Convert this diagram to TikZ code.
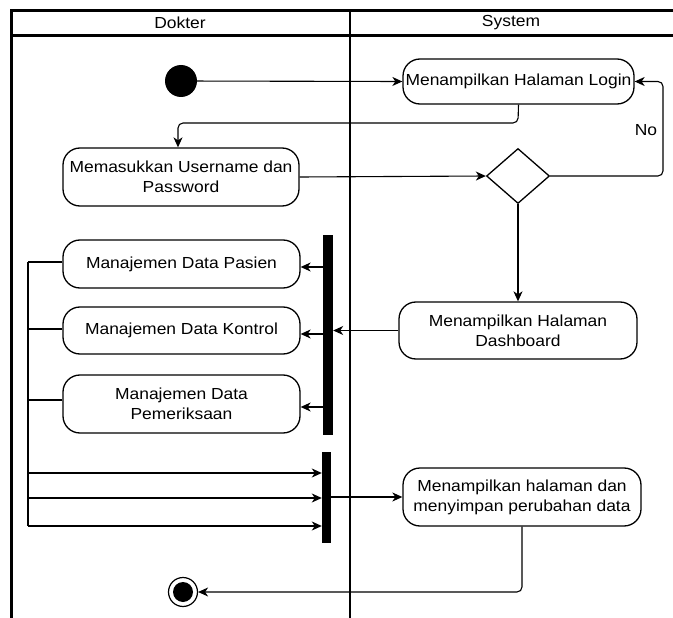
\documentclass[tikz,border=0pt]{standalone}
\usepackage{fontspec}
\setmainfont{Liberation Sans}[FakeStretch=1.09]
\usetikzlibrary{arrows.meta,shapes.geometric}

\tikzset{
  lane/.style={line width=2.2pt, draw=black},
  act/.style={draw=black, line width=1.3pt, rounded corners=17pt, align=center,
              inner sep=0pt, font=\fontsize{16}{20}\selectfont},
  bar/.style={fill=black, draw=none, inner sep=0pt},
  flow/.style={line width=1.1pt, draw=black, rounded corners=5pt,
               -{Stealth[length=10pt,width=9pt,inset=3pt]}},
  link/.style={line width=1.1pt, draw=black},
  lbl/.style={font=\fontsize{16}{20}\selectfont, inner sep=0pt}
}

\begin{document}
\begin{tikzpicture}[x=1pt,y=-1pt]
\useasboundingbox (0,0) rectangle (673,618);

% swimlane frame
\draw[lane] (11.5,618) -- (11.5,10.5) -- (673,10.5);
\draw[lane] (11.5,35.5) -- (673,35.5);
\draw[lane] (350,10.5) -- (350,618);
\node[lbl] (hdoc) at (180,23) {Dokter};
\node[lbl] (hsys) at (511,23) {System};

% activities
\node[circle, fill=black, minimum size=32pt, inner sep=0pt] (start) at (181,81) {};
\node[act, minimum width=231pt, minimum height=45pt] (login) at (518.5,81.5) {Menampilkan Halaman Login};
\node[act, minimum width=236pt, minimum height=58pt] (input) at (181,177) {Memasukkan Username dan\\Password};
\node[diamond, draw=black, line width=1.3pt, minimum width=63pt, minimum height=55pt, inner sep=0pt] (dec) at (518,176) {};
\node[act, minimum width=238pt, minimum height=57pt] (dash) at (518,330.5) {Menampilkan Halaman\\Dashboard};
\node[act, minimum width=237pt, minimum height=48pt] (pasien) at (181.5,264) {Manajemen Data Pasien};
\node[act, minimum width=237pt, minimum height=47pt] (kontrol) at (181.5,330.5) {Manajemen Data Kontrol};
\node[act, minimum width=237pt, minimum height=58pt] (periksa) at (181.5,404) {Manajemen Data\\Pemeriksaan};
\node[bar, minimum width=10pt, minimum height=200pt] (fork) at (328,335) {};
\node[bar, minimum width=9pt, minimum height=91pt] (join) at (326.5,497.5) {};
\node[act, minimum width=238pt, minimum height=58pt] (save) at (522,497) {Menampilkan halaman dan\\menyimpan perubahan data};
\node[circle, draw=black, line width=1.2pt, minimum size=29pt, inner sep=0pt] (stop) at (183,592) {};
\node[circle, fill=black, minimum size=20pt, inner sep=0pt] (stopdot) at (183,592) {};

% routing points
\coordinate (c1) at (518,123);
\coordinate (c2) at (178,123);
\coordinate (r1) at (663,176);
\coordinate (r2) at (663,81.5);
\coordinate (b1) at (28,262);
\coordinate (b2) at (28,329);
\coordinate (b3) at (28,400);
\coordinate (j1) at (28,473);
\coordinate (j2) at (28,498);
\coordinate (j3) at (28,526);
\coordinate (e1) at (522,592);

% control flow
\draw[flow] (start) -- (login.west);
\draw[flow] (login.south) -- (c1) -- (c2) -- (c2 |- input.north);
\draw[flow] (input.east) -- (dec.west);
\draw[flow] (dec.east) -- (r1) -- (r2) -- (login.east);
\node[lbl] (no) at (646,130) {No};
\draw[flow] (dec.south) -- (dash.north);
\draw[flow] (dash.west) -- (fork.east |- dash.west);
\draw[flow] (fork.west |- 0,267) -- (pasien.east |- 0,267);
\draw[flow] (fork.west |- 0,334) -- (kontrol.east |- 0,334);
\draw[flow] (fork.west |- 0,407) -- (periksa.east |- 0,407);

\draw[link] (pasien.west |- b1) -- (b1);
\draw[link] (kontrol.west |- b2) -- (b2);
\draw[link] (periksa.west |- b3) -- (b3);
\draw[link] (b1) -- (j3);
\draw[flow] (j1) -- (join.west |- j1);
\draw[flow] (j2) -- (join.west |- j2);
\draw[flow] (j3) -- (join.west |- j3);

\draw[flow] (join.east |- save.west) -- (save.west);
\draw[flow] (save.south) -- (e1) -- (stop.east);
\end{tikzpicture}
\end{document}
